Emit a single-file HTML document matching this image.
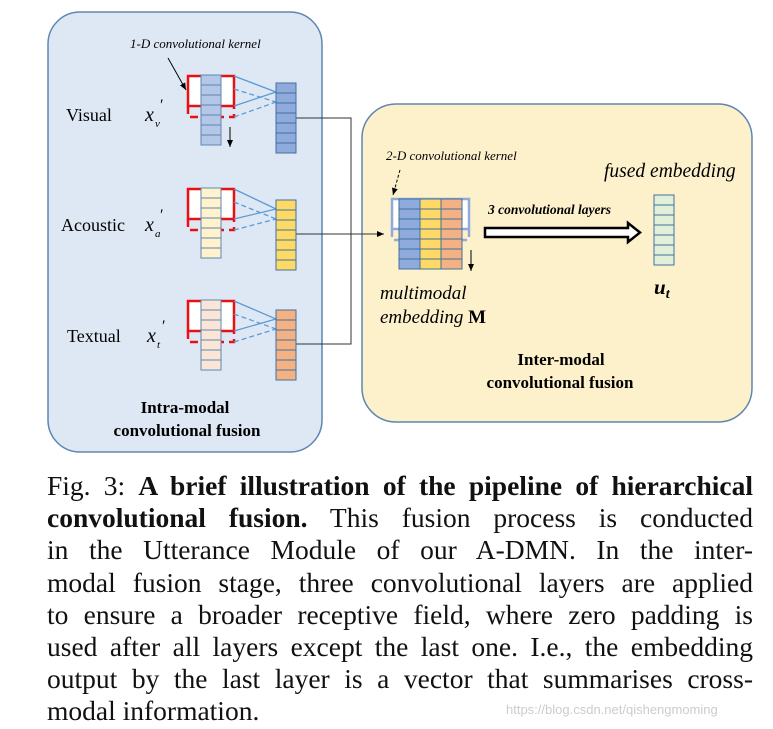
<!DOCTYPE html>
<html><head><meta charset="utf-8"><style>
body{margin:0;background:#fff;width:773px;height:729px;overflow:hidden;position:relative}
.cap{position:absolute;left:47px;width:706px;font-family:"Liberation Serif",serif;font-size:27.5px;color:#111;text-align:justify;text-align-last:justify;white-space:nowrap;line-height:30px;height:30px}
.cap.l{text-align-last:left}
.wm{position:absolute;left:506px;top:702px;font-family:"Liberation Sans",sans-serif;font-size:13px;color:#ccc}
</style></head><body>
<svg width="773" height="470" style="position:absolute;left:0;top:0" font-family="Liberation Serif, serif">
<defs>
<marker id="ah" markerWidth="8" markerHeight="8" refX="7" refY="4" orient="auto" markerUnits="userSpaceOnUse"><path d="M0,1 L7,4 L0,7z" fill="#000"/></marker>
</defs>
<rect x="48" y="12" width="274" height="440" rx="32" fill="#dee8f4" stroke="#5f86b0" stroke-width="1.5"/>
<rect x="362" y="104" width="390" height="318" rx="34" fill="#fdf1cc" stroke="#5f86b0" stroke-width="1.5"/>
<polyline points="296,118 351,118 351,344 296,344" fill="none" stroke="#333" stroke-width="1"/>
<line x1="296" y1="234" x2="384" y2="234" stroke="#333" stroke-width="1" marker-end="url(#ah)"/>

<rect x="188" y="76" width="46" height="30" fill="#fff" stroke="#e81010" stroke-width="2.5"/>
<path d="M188,106 V117 H234 V106" fill="none" stroke="#e81010" stroke-width="2.5" stroke-dasharray="8,5"/>
<rect x="201" y="75" width="20" height="70" fill="#b4c7e7" stroke="#5f86b0"/>
<path d="M201,85 h20 m-20,10 h20 m-20,10 h20 m-20,10 h20 m-20,10 h20 m-20,10 h20" stroke="#5f86b0" fill="none"/>
<g stroke="#5b9bd5" stroke-width="1.3"><line x1="234" y1="76" x2="276" y2="92"/><line x1="234" y1="106" x2="276" y2="92"/>
<line x1="234" y1="89" x2="276" y2="102" stroke-dasharray="5,3"/><line x1="234" y1="117" x2="276" y2="102" stroke-dasharray="5,3"/></g>
<rect x="276" y="83" width="20" height="70" fill="#8faadc" stroke="#41719c"/>
<path d="M276,93 h20 m-20,10 h20 m-20,10 h20 m-20,10 h20 m-20,10 h20 m-20,10 h20" stroke="#41719c" fill="none"/>
<line x1="230" y1="127" x2="230" y2="147" stroke="#000" stroke-width="1" marker-end="url(#ah)"/>

<rect x="188" y="189" width="46" height="30" fill="#fff" stroke="#e81010" stroke-width="2.5"/>
<path d="M188,219 V230 H234 V219" fill="none" stroke="#e81010" stroke-width="2.5" stroke-dasharray="8,5"/>
<rect x="201" y="188" width="20" height="70" fill="#fff2cc" stroke="#5f86b0"/>
<path d="M201,198 h20 m-20,10 h20 m-20,10 h20 m-20,10 h20 m-20,10 h20 m-20,10 h20" stroke="#5f86b0" fill="none"/>
<g stroke="#5b9bd5" stroke-width="1.3"><line x1="234" y1="189" x2="276" y2="209"/><line x1="234" y1="219" x2="276" y2="209"/>
<line x1="234" y1="202" x2="276" y2="219" stroke-dasharray="5,3"/><line x1="234" y1="230" x2="276" y2="219" stroke-dasharray="5,3"/></g>
<rect x="276" y="200" width="20" height="70" fill="#ffd966" stroke="#41719c"/>
<path d="M276,210 h20 m-20,10 h20 m-20,10 h20 m-20,10 h20 m-20,10 h20 m-20,10 h20" stroke="#41719c" fill="none"/>

<rect x="188" y="301" width="46" height="30" fill="#fff" stroke="#e81010" stroke-width="2.5"/>
<path d="M188,331 V342 H234 V331" fill="none" stroke="#e81010" stroke-width="2.5" stroke-dasharray="8,5"/>
<rect x="201" y="300" width="20" height="70" fill="#fbe5d6" stroke="#5f86b0"/>
<path d="M201,310 h20 m-20,10 h20 m-20,10 h20 m-20,10 h20 m-20,10 h20 m-20,10 h20" stroke="#5f86b0" fill="none"/>
<g stroke="#5b9bd5" stroke-width="1.3"><line x1="234" y1="301" x2="276" y2="319"/><line x1="234" y1="331" x2="276" y2="319"/>
<line x1="234" y1="314" x2="276" y2="329" stroke-dasharray="5,3"/><line x1="234" y1="342" x2="276" y2="329" stroke-dasharray="5,3"/></g>
<rect x="276" y="310" width="20" height="70" fill="#f4b183" stroke="#41719c"/>
<path d="M276,320 h20 m-20,10 h20 m-20,10 h20 m-20,10 h20 m-20,10 h20 m-20,10 h20" stroke="#41719c" fill="none"/>

<rect x="392" y="199" width="77" height="30" fill="#fff" stroke="#8faadc" stroke-width="2.5"/>
<path d="M392,229 V240 H469 V229" fill="none" stroke="#8faadc" stroke-width="2.5" stroke-dasharray="8,5"/>
<rect x="399" y="199" width="21" height="70" fill="#8faadc" stroke="#41719c"/>
<rect x="420" y="199" width="21" height="70" fill="#ffd966" stroke="#41719c"/>
<rect x="441" y="199" width="21" height="70" fill="#f4b183" stroke="#41719c"/>
<path d="M399,209 h63 m-63,10 h63 m-63,10 h63 m-63,10 h63 m-63,10 h63 m-63,10 h63" stroke="#41719c" fill="none"/>
<line x1="471" y1="250" x2="471" y2="271" stroke="#000" stroke-width="1" marker-end="url(#ah)"/>
<rect x="654" y="195" width="20" height="70" fill="#e2f0d9" stroke="#41719c"/>
<path d="M654,205 h20 m-20,10 h20 m-20,10 h20 m-20,10 h20 m-20,10 h20 m-20,10 h20" stroke="#41719c" fill="none"/>

<text x="130" y="48" font-size="13" font-style="italic">1-D convolutional kernel</text>
<line x1="168" y1="58" x2="186" y2="90" stroke="#000" stroke-width="1" marker-end="url(#ah)"/>
<text x="66" y="121" font-size="18">Visual</text>
<text x="145" y="121" font-size="20" font-style="italic">x</text><text x="155" y="127" font-size="11" font-style="italic">v</text><text x="160" y="110" font-size="16">′</text>
<text x="61" y="231" font-size="18">Acoustic</text>
<text x="145" y="231" font-size="20" font-style="italic">x</text><text x="155" y="237" font-size="11" font-style="italic">a</text><text x="160" y="220" font-size="16">′</text>
<text x="67" y="342" font-size="18">Textual</text>
<text x="147" y="342" font-size="20" font-style="italic">x</text><text x="157" y="348" font-size="11" font-style="italic">t</text><text x="162" y="331" font-size="16">′</text>
<text x="185" y="413" font-size="17" font-weight="bold" text-anchor="middle">Intra-modal</text>
<text x="187" y="436" font-size="17" font-weight="bold" text-anchor="middle">convolutional fusion</text>
<text x="386" y="160" font-size="13" font-style="italic">2-D convolutional kernel</text>
<line x1="400" y1="170" x2="393" y2="195" stroke="#000" stroke-width="1" stroke-dasharray="3,2" marker-end="url(#ah)"/>
<text x="604" y="177" font-size="19.5" font-style="italic">fused embedding</text>
<text x="488" y="214" font-size="13.5" font-style="italic" font-weight="bold">3 convolutional layers</text>
<path d="M485,228 L628,228 L628,223 L640,232.5 L628,242 L628,237 L485,237Z" fill="#fff" stroke="#000" stroke-width="2.5"/>
<text x="380" y="299" font-size="19" font-style="italic">multimodal</text>
<text x="380" y="323" font-size="19"><tspan font-style="italic">embedding </tspan><tspan font-weight="bold">M</tspan></text>
<text x="654" y="294" font-size="21" font-weight="bold" font-style="italic">u<tspan font-size="14" dy="4">t</tspan></text>
<text x="561" y="365" font-size="17" font-weight="bold" text-anchor="middle">Inter-modal</text>
<text x="560" y="388" font-size="17" font-weight="bold" text-anchor="middle">convolutional fusion</text>
</svg>
<div class="cap" style="top:471px">Fig. 3: <b>A brief illustration of the pipeline of hierarchical</b></div>
<div class="cap" style="top:503px"><b>convolutional fusion.</b> This fusion process is conducted</div>
<div class="cap" style="top:535px">in the Utterance Module of our A-DMN. In the inter-</div>
<div class="cap" style="top:568px">modal fusion stage, three convolutional layers are applied</div>
<div class="cap" style="top:600px">to ensure a broader receptive field, where zero padding is</div>
<div class="cap" style="top:632px">used after all layers except the last one. I.e., the embedding</div>
<div class="cap" style="top:664px">output by the last layer is a vector that summarises cross-</div>
<div class="cap l" style="top:696px">modal information.</div>
<div class="wm">https://blog.csdn.net/qishengmoming</div>
</body></html>
